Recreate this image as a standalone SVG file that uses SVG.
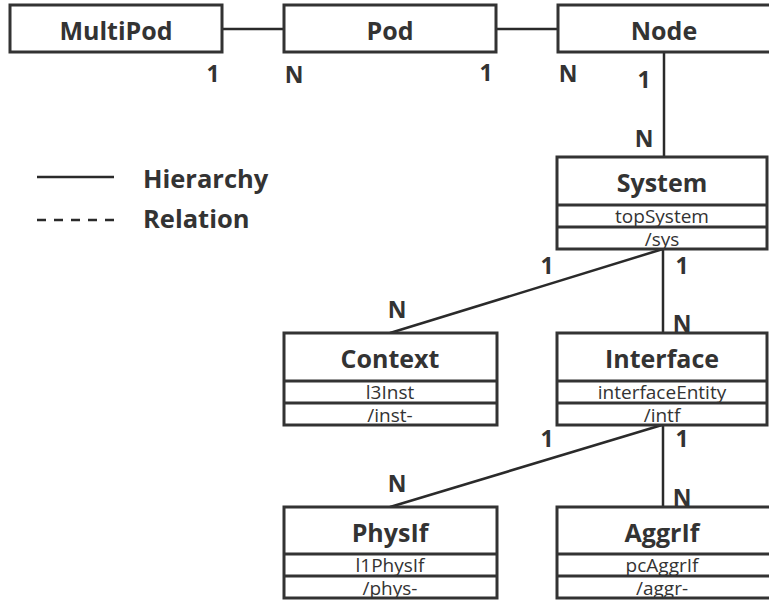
<svg xmlns="http://www.w3.org/2000/svg" width="769" height="601" viewBox="0 0 769 601">
  <style>
    .box { fill: #ffffff; stroke: #333333; stroke-width: 3; }
    .sep { stroke: #333333; stroke-width: 3; }
    .link { stroke: #2a2a2a; stroke-width: 2.5; fill: none; }
    .title { font-family: "Open Sans", "Noto Sans", sans-serif; font-weight: 700; font-size: 25px; fill: #333333; text-anchor: middle; }
    .attr { font-family: "Open Sans", "Noto Sans", sans-serif; font-weight: 400; font-size: 19px; fill: #333333; text-anchor: middle; }
    .card { font-family: "Open Sans", "Noto Sans", sans-serif; font-weight: 700; font-size: 23px; fill: #333333; text-anchor: middle; }
    .legend { font-family: "Open Sans", "Noto Sans", sans-serif; font-weight: 700; font-size: 25.5px; fill: #333333; }
  </style>
  <rect width="769" height="601" fill="#ffffff"/>

  <!-- connectors -->
  <g id="connectors">
    <line class="link" x1="222" y1="29" x2="284" y2="29"/>
    <line class="link" x1="496" y1="29" x2="558" y2="29"/>
    <line class="link" x1="664" y1="52" x2="664" y2="157"/>
    <line class="link" x1="663" y1="249" x2="390" y2="333"/>
    <line class="link" x1="663" y1="249" x2="663" y2="333"/>
    <line class="link" x1="662" y1="425" x2="390" y2="507"/>
    <line class="link" x1="663" y1="425" x2="663" y2="507"/>
  </g>

  <!-- cardinality labels -->
  <g id="cardinalities">
    <text class="card" x="213" y="82">1</text>
    <text class="card" x="294" y="83">N</text>
    <text class="card" x="486" y="81">1</text>
    <text class="card" x="568" y="82">N</text>
    <text class="card" x="644" y="88">1</text>
    <text class="card" x="644" y="147">N</text>
    <text class="card" x="547" y="274">1</text>
    <text class="card" x="682" y="274">1</text>
    <text class="card" x="397" y="318">N</text>
    <text class="card" x="682" y="332">N</text>
    <text class="card" x="547" y="447">1</text>
    <text class="card" x="682" y="447">1</text>
    <text class="card" x="397" y="492">N</text>
    <text class="card" x="682" y="506">N</text>
  </g>

  <!-- legend -->
  <g id="legend">
    <line class="link" x1="37" y1="177" x2="114" y2="177"/>
    <line class="link" x1="37" y1="220" x2="114" y2="220" stroke-dasharray="9 8"/>
    <text class="legend" x="143" y="188">Hierarchy</text>
    <text class="legend" x="143" y="228">Relation</text>
  </g>

  <g id="multipod">
    <rect class="box" x="10" y="5" width="212" height="47"/>
    <text class="title" x="116" y="40">MultiPod</text>
  </g>

  <g id="pod">
    <rect class="box" x="284" y="5" width="212" height="47"/>
    <text class="title" x="390" y="40">Pod</text>
  </g>

  <g id="node">
    <rect class="box" x="558" y="5" width="216" height="47"/>
    <text class="title" x="664" y="40">Node</text>
  </g>

  <g id="system">
    <rect class="box" x="557" y="157" width="210" height="92"/>
    <line class="sep" x1="557" y1="205" x2="767" y2="205"/>
    <line class="sep" x1="557" y1="227" x2="767" y2="227"/>
    <text class="title" x="662" y="192">System</text>
    <text class="attr" x="662" y="223">topSystem</text>
    <text class="attr" x="662" y="246">/sys</text>
  </g>

  <g id="context">
    <rect class="box" x="284" y="333" width="213" height="92"/>
    <line class="sep" x1="284" y1="381" x2="497" y2="381"/>
    <line class="sep" x1="284" y1="403" x2="497" y2="403"/>
    <text class="title" x="390" y="368">Context</text>
    <text class="attr" x="390" y="399">l3Inst</text>
    <text class="attr" x="390" y="422">/inst-</text>
  </g>

  <g id="interface">
    <rect class="box" x="557" y="333" width="210" height="92"/>
    <line class="sep" x1="557" y1="381" x2="767" y2="381"/>
    <line class="sep" x1="557" y1="403" x2="767" y2="403"/>
    <text class="title" x="662" y="368">Interface</text>
    <text class="attr" x="662" y="399">interfaceEntity</text>
    <text class="attr" x="662" y="422">/intf</text>
  </g>

  <g id="physif">
    <rect class="box" x="284" y="507" width="213" height="91"/>
    <line class="sep" x1="284" y1="554" x2="497" y2="554"/>
    <line class="sep" x1="284" y1="576" x2="497" y2="576"/>
    <text class="title" x="390" y="542">PhysIf</text>
    <text class="attr" x="390" y="572">l1PhysIf</text>
    <text class="attr" x="390" y="595">/phys-</text>
  </g>

  <g id="aggrif">
    <rect class="box" x="557" y="507" width="216" height="91"/>
    <line class="sep" x1="557" y1="554" x2="773" y2="554"/>
    <line class="sep" x1="557" y1="576" x2="773" y2="576"/>
    <text class="title" x="662" y="542">AggrIf</text>
    <text class="attr" x="662" y="572">pcAggrIf</text>
    <text class="attr" x="662" y="595">/aggr-</text>
  </g>
</svg>
